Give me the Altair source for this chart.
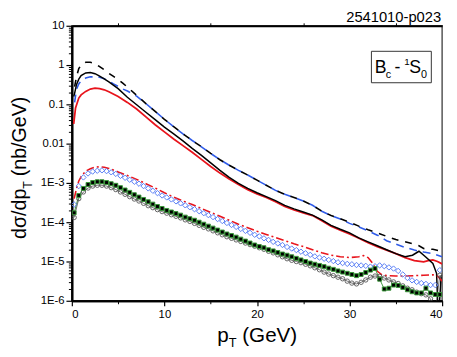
import math
import altair as alt
import pandas as pd

FONT = "Liberation Sans"

TITLE = "2541010-p023"

# ---- upper curves: log10 of dsigma/dpT (nb/GeV) ----
BD_X = [0.3, 0.5, 0.75, 1.0, 1.5, 2.0, 2.5, 3.0, 3.5, 4.0, 4.5, 5.0, 5.5, 6.0, 7.0, 8.0, 9.0, 10.0,
        11.0, 12.0, 13.0, 14.0, 15.0, 16.0, 17.0, 18.0, 19.0, 20.0, 21.0, 22.0, 23.0, 24.0, 25.0,
        26.0, 27.0, 28.0, 29.0, 30.0, 31.0, 32.0, 33.0, 34.0, 35.0, 36.0, 37.0, 37.5, 38.0, 38.5,
        39.0, 40.0]
BD_LOG10 = [-0.55, -0.3, -0.09, 0.0, 0.07, 0.07, 0.04, -0.04, -0.12, -0.21, -0.29, -0.37, -0.46,
            -0.56, -0.77, -0.98, -1.18, -1.38, -1.57, -1.75, -1.92, -2.08, -2.25, -2.41, -2.55,
            -2.68, -2.8, -2.93, -3.06, -3.19, -3.29, -3.37, -3.46, -3.57, -3.72, -3.83, -3.91,
            -4.0, -4.1, -4.19, -4.27, -4.36, -4.44, -4.5, -4.56, -4.6, -4.67, -4.68, -4.69, -4.74]

BL_X = [0.3, 0.5, 0.75, 1.0, 1.5, 2.0, 2.5, 3.0, 3.5, 4.0, 4.5, 5.0, 5.5, 6.0, 7.0, 8.0, 9.0, 10.0,
        11.0, 12.0, 13.0, 14.0, 15.0, 16.0, 17.0, 18.0, 19.0, 20.0, 21.0, 22.0, 23.0, 24.0, 25.0,
        26.0, 27.0, 28.0, 29.0, 30.0, 31.0, 32.0, 33.0, 34.0, 35.0, 36.0, 37.0, 38.0, 39.0, 40.0]
BL_LOG10 = [-0.95, -0.62, -0.48, -0.4, -0.33, -0.3, -0.3, -0.31, -0.35, -0.41, -0.48, -0.54, -0.61,
            -0.66, -0.79, -0.98, -1.18, -1.38, -1.57, -1.75, -1.92, -2.08, -2.25, -2.41, -2.55,
            -2.68, -2.8, -2.93, -3.06, -3.19, -3.29, -3.37, -3.46, -3.57, -3.72, -3.83, -3.92,
            -4.03, -4.12, -4.22, -4.33, -4.47, -4.56, -4.64, -4.71, -4.76, -4.8, -4.88]

BS_X = [0.2, 0.3, 0.5, 0.75, 1.0, 1.5, 2.0, 2.5, 3.0, 3.5, 4.0, 5.0, 6.0, 7.0, 8.0, 9.0, 10.0, 11.0,
        12.0, 13.0, 14.0, 15.0, 16.0, 17.0, 18.0, 19.0, 20.0, 21.0, 22.0, 23.0, 24.0, 25.0, 26.0,
        27.0, 28.0, 29.0, 30.0, 31.0, 32.0, 33.0, 34.0, 35.0, 36.0, 36.8, 37.5, 38.2, 39.0, 39.4,
        39.6, 39.9]
BS_LOG10 = [-0.8, -0.72, -0.5, -0.36, -0.27, -0.2, -0.19, -0.22, -0.28, -0.35, -0.43, -0.6, -0.82,
            -1.01, -1.2, -1.39, -1.58, -1.75, -1.93, -2.12, -2.3, -2.49, -2.68, -2.86, -3.01,
            -3.14, -3.25, -3.35, -3.45, -3.57, -3.66, -3.74, -3.82, -3.94, -4.08, -4.18, -4.27,
            -4.4, -4.5, -4.6, -4.7, -4.8, -4.88, -4.84, -4.74, -4.88, -5.05, -5.3, -6.5, -5.35]

R_X = [0.2, 0.4, 0.75, 1.0, 1.5, 2.0, 2.5, 3.0, 3.5, 4.0, 5.0, 6.0, 7.0, 8.0, 9.0, 10.0, 11.0, 12.0,
       13.0, 14.0, 15.0, 16.0, 17.0, 18.0, 19.0, 20.0, 21.0, 22.0, 23.0, 24.0, 25.0, 26.0, 27.0,
       28.0, 29.0, 30.0, 31.0, 32.0, 33.0, 34.0, 35.0, 36.0, 37.0, 38.0, 38.5, 39.0, 39.5, 40.0]
R_LOG10 = [-1.5, -1.09, -0.84, -0.76, -0.67, -0.61, -0.59, -0.6, -0.63, -0.68, -0.8, -0.95, -1.12,
           -1.32, -1.52, -1.7, -1.88, -2.05, -2.22, -2.4, -2.58, -2.75, -2.9, -3.04, -3.17, -3.28,
           -3.37, -3.48, -3.6, -3.69, -3.76, -3.83, -3.96, -4.1, -4.2, -4.3, -4.41, -4.52, -4.62,
           -4.71, -4.8, -4.9, -4.98, -5.01, -4.98, -4.96, -5.0, -5.06]

# ---- lower curves ----
RD_X = [0.25, 0.5, 0.75, 1.0, 1.5, 2.0, 2.5, 3.0, 3.5, 4.0, 5.0, 6.0, 7.0, 8.0, 9.0, 10.0, 11.0,
        12.0, 13.0, 14.0, 15.0, 16.0, 17.0, 18.0, 19.0, 20.0, 21.0, 22.0, 23.0, 24.0, 25.0, 26.0,
        27.0, 28.0, 29.0, 30.0, 31.0, 31.5, 32.0, 32.5, 33.0, 33.5, 34.0, 35.0, 36.0, 37.0, 38.0,
        39.0, 39.5, 40.0]
RD_LOG10 = [-3.4, -3.15, -2.95, -2.84, -2.7, -2.64, -2.6, -2.59, -2.6, -2.63, -2.72, -2.81, -2.91,
            -3.02, -3.13, -3.25, -3.36, -3.46, -3.55, -3.65, -3.75, -3.85, -3.95, -4.05, -4.14,
            -4.23, -4.31, -4.39, -4.47, -4.55, -4.62, -4.7, -4.78, -4.84, -4.88, -4.9, -4.88,
            -4.85, -4.9, -5.05, -5.25, -5.34, -5.36, -5.37, -5.37, -5.36, -5.35, -5.34, -5.37, -5.5]

MARK_X = [0.25, 0.75, 1.25, 1.75, 2.25, 2.75, 3.25, 3.75, 4.25, 4.75, 5.25, 5.75, 6.25, 6.75, 7.25,
          7.75, 8.25, 8.75, 9.25, 9.75, 10.25, 10.75, 11.25, 11.75, 12.25, 12.75, 13.25, 13.75,
          14.25, 14.75, 15.25, 15.75, 16.25, 16.75, 17.25, 17.75, 18.25, 18.75, 19.25, 19.75,
          20.25, 20.75, 21.25, 21.75, 22.25, 22.75, 23.25, 23.75, 24.25, 24.75, 25.25, 25.75,
          26.25, 26.75, 27.25, 27.75, 28.25, 28.75, 29.25, 29.75, 30.25, 30.75, 31.25, 31.75,
          32.25, 32.75, 33.25, 33.75, 34.25, 34.75, 35.25, 35.75, 36.25, 36.75, 37.25, 37.75,
          38.25, 38.75, 39.25, 39.75]

DIAMOND_LOG10 = [-3.55, -3.08, -2.86, -2.76, -2.71, -2.69, -2.68, -2.70, -2.73, -2.77,
                 -2.82, -2.87, -2.92, -2.97, -3.02, -3.08, -3.14, -3.20, -3.26, -3.32,
                 -3.37, -3.42, -3.47, -3.52, -3.57, -3.62, -3.67, -3.72, -3.77, -3.82,
                 -3.87, -3.92, -3.97, -4.02, -4.07, -4.12, -4.17, -4.22, -4.27, -4.32,
                 -4.36, -4.41, -4.45, -4.50, -4.54, -4.58, -4.63, -4.67, -4.71, -4.75,
                 -4.79, -4.83, -4.87, -4.90, -4.93, -4.96, -4.99, -5.02, -5.04, -5.06,
                 -5.07, -5.09, -5.10, -5.11, -5.13, -5.12, -5.10, -5.12, -5.15, -5.18,
                 -5.24, -5.33, -5.42, -5.48, -5.52, -5.55, -5.57, -5.60, -5.60, -5.22]

SQUARE_LOG10 = [-3.76, -3.32, -3.14, -3.04, -2.99, -2.97, -2.97, -2.99, -3.02, -3.06,
                -3.12, -3.18, -3.24, -3.30, -3.36, -3.42, -3.48, -3.54, -3.60, -3.65,
                -3.70, -3.74, -3.78, -3.82, -3.87, -3.91, -3.95, -4.00, -4.05, -4.10,
                -4.15, -4.20, -4.25, -4.30, -4.34, -4.38, -4.43, -4.48, -4.53, -4.58,
                -4.62, -4.65, -4.70, -4.73, -4.77, -4.81, -4.84, -4.88, -4.92, -4.96,
                -5.00, -5.04, -5.07, -5.10, -5.13, -5.17, -5.20, -5.24, -5.27, -5.30,
                -5.33, -5.36, -5.33, -5.28, -5.22, -5.18, -5.45, -5.70, -5.68, -5.60,
                -5.61, -5.66, -5.72, -5.77, -5.80, -5.80, -5.68, -5.80, -5.84, -5.84]

CIRCLE_LOG10 = [-3.88, -3.40, -3.23, -3.13, -3.08, -3.06, -3.06, -3.08, -3.12, -3.17,
                -3.23, -3.29, -3.35, -3.41, -3.46, -3.52, -3.58, -3.63, -3.68, -3.73,
                -3.77, -3.81, -3.85, -3.89, -3.94, -3.98, -4.03, -4.08, -4.13, -4.17,
                -4.22, -4.27, -4.32, -4.37, -4.41, -4.45, -4.49, -4.53, -4.57, -4.61,
                -4.65, -4.69, -4.74, -4.78, -4.83, -4.88, -4.93, -4.97, -5.00, -5.03,
                -5.07, -5.11, -5.16, -5.21, -5.27, -5.32, -5.36, -5.40, -5.44, -5.50,
                -5.55, -5.57, -5.53, -5.47, -5.40, -5.37, -5.38, -5.42, -5.47, -5.52,
                -5.56, -5.62, -5.68, -5.72, -5.78, -5.82, -5.85, -5.95, -6.30, -5.35]

# ---- axes ----
Y_TICKS = [1e-6, 1e-5, 1e-4, 1e-3, 0.01, 0.1, 1, 10]
Y_LABELS = ["1E-6", "1E-5", "1E-4", "1E-3", "0.01", "0.1", "1", "10"]
X_TICKS = [0, 10, 20, 30, 40]
X_MINOR_TICKS = [5, 15, 25, 35]
Y_MINOR_TICKS = [m * 10.0 ** e for e in range(-6, 1) for m in range(2, 10)]

XS = alt.Scale(domain=[0, 40], nice=False, zero=False)
YS = alt.Scale(type="log", domain=[1e-6, 10], nice=False)

y_label_expr = "''"
for t, l in zip(Y_TICKS, Y_LABELS):
    y_label_expr = (f"abs(log(datum.value)/LN10 - ({round(math.log10(t))})) < 0.01 ? '{l}' : "
                    f"({y_label_expr})")

y_major = alt.Axis(orient="left", values=Y_TICKS, labelExpr=y_label_expr, title=None,
                   tickSize=6, labelPadding=2, domainWidth=2, tickWidth=1.2)
y_minor = alt.Axis(orient="left", values=Y_MINOR_TICKS, labels=False, title=None,
                   tickSize=3.5, domainWidth=2, tickWidth=1.0)
x_major = alt.Axis(orient="bottom", values=X_TICKS, title=None, tickSize=5, labelPadding=3,
                   domainWidth=2, tickWidth=1.2, format="d")
x_minor = alt.Axis(orient="bottom", values=X_MINOR_TICKS, labels=False, title=None, tickSize=3,
                   domainWidth=2, tickWidth=1.0)
x_top = alt.Axis(orient="top", values=X_MINOR_TICKS, labels=False, title=None, tickSize=3,
                 domainWidth=2, tickWidth=1.0)


def frame(xs, logs):
    return pd.DataFrame({"x": xs, "y": [10 ** v for v in logs]})


def line(xs, logs, color, width=1.5, dash=None, dash_offset=None, xaxis=None, yaxis=None):
    kw = dict(color=color, strokeWidth=width, clip=True)
    if dash is not None:
        kw["strokeDash"] = dash
    if dash_offset is not None:
        kw["strokeDashOffset"] = dash_offset
    return alt.Chart(frame(xs, logs)).mark_line(**kw).encode(
        x=alt.X("x:Q", scale=XS, axis=xaxis),
        y=alt.Y("y:Q", scale=YS, axis=yaxis),
        order="x:Q",
    )


def points(xs, logs, shape, size, stroke, fill=None, sw=1.0):
    kw = dict(shape=shape, size=size, stroke=stroke, strokeWidth=sw, clip=True, opacity=1)
    if fill is None:
        kw["filled"] = False
    else:
        kw["filled"] = True
        kw["fill"] = fill
    return alt.Chart(frame(xs, logs)).mark_point(**kw).encode(
        x=alt.X("x:Q", scale=XS, axis=None),
        y=alt.Y("y:Q", scale=YS, axis=None),
    )


def text(t, x, y, size, angle=0, align="left"):
    return alt.Chart(pd.DataFrame({"t": [t]})).mark_text(
        align=align, baseline="alphabetic", fontSize=size, font=FONT, angle=angle, color="black"
    ).encode(x=alt.value(x), y=alt.value(y), text="t:N")


layers = [
    line(BL_X, BL_LOG10, "#2f5be8", 1.6, [8, 6], None, x_minor, y_minor),
    line(BD_X, BD_LOG10, "black", 1.6, [7, 7], None, x_major, y_major),
    line(R_X, R_LOG10, "#e8141c", 1.8, None, None, x_top, None),
    line(BS_X, BS_LOG10, "black", 1.5),
    line(RD_X, RD_LOG10, "#e8141c", 1.6, [8, 3, 2, 3]),
    line(MARK_X, SQUARE_LOG10, "#2e8b2e", 0.9),
    line(MARK_X, CIRCLE_LOG10, "#333333", 0.7),
    points(MARK_X, DIAMOND_LOG10, "diamond", 30, "#5b7ff5", None, 1.0),
    points(MARK_X, CIRCLE_LOG10, "circle", 20, "#555555", None, 0.9),
    points(MARK_X, SQUARE_LOG10, "square", 16, "#3a9a3a", "black", 1.0),
    # legend box
    alt.Chart(pd.DataFrame({"a": [0]})).mark_rect(fill="white", stroke="#333333", strokeWidth=1).encode(
        x=alt.value(305), x2=alt.value(366), y=alt.value(26), y2=alt.value(58)),
    text("B", 308.5, 48, 18),
    text("c", 319.5, 53.5, 11),
    text("-", 328.5, 48, 18),
    text("1", 338.5, 40, 10),
    text("S", 343.5, 48, 18),
    text("0", 355.5, 53.5, 11),
    # top-right id
    text(TITLE, 376, -4, 15, align="right"),
    # x title
    text("p", 148, 322, 21),
    text("T", 159.7, 327, 13),
    text("(GeV)", 173.5, 322, 21),
    # y title (rotated)
    text("dσ/dp", -46.5, 217, 20, angle=270),
    text("T", -41, 166, 12.5, angle=270),
    text("(nb/GeV)", -46.5, 153.2, 20, angle=270),
]

chart = alt.layer(*layers).resolve_axis(x="independent", y="independent").properties(
    width=377, height=280,
    padding={"left": 65, "top": 15, "right": 7, "bottom": 46},
    autosize=alt.AutoSizeParams(type="none"),
).configure_view(stroke="#555555", strokeWidth=1.5).configure_axis(
    labelFont=FONT, labelFontSize=11.5, labelColor="black", domainColor="black",
    tickColor="black", grid=False,
)

chart.save("out.html", embed_options={"renderer": "svg", "actions": False})
